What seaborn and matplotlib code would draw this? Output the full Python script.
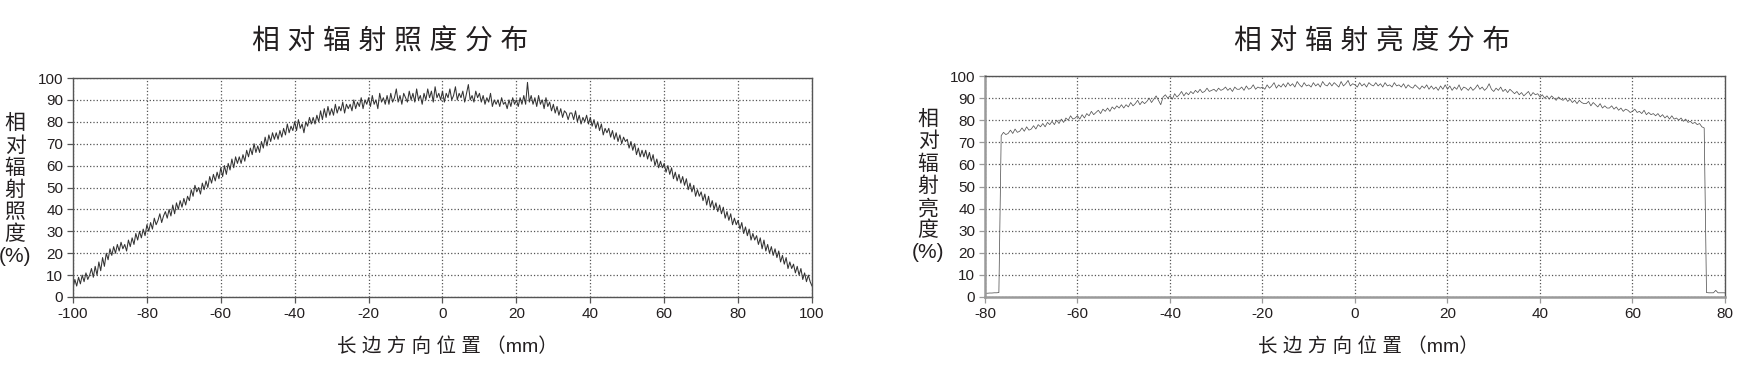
import numpy as np
import pandas as pd
import matplotlib
matplotlib.use("Agg")
import matplotlib.pyplot as plt
import seaborn as sns

# 相对辐射照度：长边方向位置 -100 ~ 100 mm，每 0.5 mm 一个点
irr_x = np.arange(-100, 100.5, 0.5)
irr_y = [
    4, 8, 5, 9, 6, 10, 7, 11, 8, 10,
    13, 9, 14, 10, 16, 12, 18, 14, 20, 17,
    22, 19, 23, 20, 24, 21, 25, 22, 24, 21,
    26, 23, 27, 24, 29, 26, 30, 27, 31, 28,
    33, 30, 34, 31, 36, 33, 35, 38, 34, 37,
    39, 36, 40, 37, 42, 38, 43, 40, 44, 41,
    45, 42, 46, 44, 49, 46, 51, 48, 50, 47,
    52, 49, 53, 50, 55, 52, 56, 53, 57, 54,
    59, 55, 60, 56, 61, 58, 63, 59, 64, 61,
    64, 61, 65, 62, 67, 64, 68, 65, 70, 66,
    69, 66, 71, 68, 73, 69, 74, 71, 75, 72,
    75, 72, 76, 73, 77, 74, 79, 75, 78, 76,
    80, 76, 81, 77, 79, 75, 80, 78, 82, 79,
    82, 79, 83, 80, 85, 81, 86, 82, 87, 83,
    86, 83, 88, 84, 87, 85, 89, 84, 88, 86,
    88, 85, 90, 86, 89, 87, 91, 86, 90, 88,
    91, 87, 92, 88, 90, 86, 93, 89, 91, 88,
    92, 88, 93, 89, 91, 95, 89, 92, 88, 93,
    91, 89, 94, 90, 93, 89, 95, 90, 92, 88,
    93, 90, 95, 91, 94, 89, 96, 91, 93, 90,
    94, 89, 93, 91, 95, 90, 92, 96, 90, 93,
    91, 94, 89, 93, 97, 90, 92, 89, 94, 91,
    93, 89, 92, 88, 91, 89, 93, 87, 90, 88,
    90, 87, 91, 88, 89, 86, 90, 87, 91, 88,
    90, 87, 91, 88, 92, 88, 98, 89, 92, 88,
    91, 87, 92, 88, 90, 86, 91, 87, 89, 85,
    88, 84, 87, 83, 86, 82, 85, 84, 81, 84,
    84, 81, 85, 80, 83, 79, 82, 80, 83, 79,
    82, 78, 81, 77, 80, 76, 79, 74, 77, 75,
    77, 73, 76, 72, 75, 71, 74, 70, 73, 71,
    72, 68, 71, 67, 70, 65, 68, 64, 67, 64,
    67, 63, 66, 62, 65, 60, 63, 59, 62, 59,
    61, 57, 60, 56, 59, 54, 57, 53, 56, 52,
    55, 51, 54, 49, 52, 48, 51, 46, 49, 46,
    48, 44, 47, 42, 46, 41, 44, 40, 43, 39,
    42, 38, 41, 36, 39, 35, 38, 33, 36, 33,
    35, 31, 34, 29, 32, 28, 31, 26, 29, 26,
    28, 24, 27, 22, 26, 21, 24, 20, 23, 19,
    22, 18, 21, 16, 19, 15, 18, 13, 16, 13,
    15, 11, 14, 10, 13, 8, 11, 7, 10, 7,
    5,
]

# 相对辐射亮度：-80 ~ 80 mm，每 0.5 mm 一个点
rad_x = np.arange(-80, 80.5, 0.5)
rad_y = [
    1.7, 1.7, 1.8, 1.8, 1.9, 1.9, 2.0, 73, 74.5, 73.5,
    74, 75.5, 74, 76, 74.5, 75, 76.5, 75, 77, 75.5,
    76, 77.5, 76, 78, 77, 78.5, 77, 79, 78, 79.5,
    78, 80, 78.5, 80.5, 79, 81, 80, 82, 80.5, 81,
    82, 80.5, 82.5, 81, 83, 82, 84, 82.5, 83.5, 84.5,
    83, 85, 84, 85.5, 84, 86, 85, 86.5, 85.5, 87,
    85.5, 87, 86, 88, 86.5, 87.5, 89, 87, 88.5, 87.5,
    88.5, 90, 88, 89.5, 91, 89, 87, 90.5, 91.5, 90,
    91, 89.5, 92, 90.5, 91.5, 93, 91, 92.5, 91.5, 93,
    92, 93.5, 92.5, 94, 92.5, 93, 94.5, 93, 93.5, 94,
    93, 94.5, 93.5, 94, 95, 93.5, 94.5, 93, 95, 94,
    94, 95, 93.5, 95.5, 94, 94.5, 96, 94, 95, 94.5,
    95, 94, 96, 94.5, 95.5, 97, 94.5, 96, 95, 96.5,
    95, 97, 95.5, 96.5, 95, 97.5, 96, 95, 97, 95.5,
    96, 95, 97, 95.5, 96.5, 95, 97.5, 96, 95.5, 97,
    95.5, 97, 96, 95, 97.5, 95.5, 96.5, 98, 95.5, 96.5,
    96, 95, 97, 95.5, 96.5, 95, 97, 96, 95.5, 97,
    95.5, 96.5, 95, 97, 95.5, 96, 95, 97, 95.5, 96,
    95, 96.5, 94.5, 96, 95, 94.5, 96, 95, 94, 95.5,
    94.5, 96, 94, 95.5, 94, 95, 93.5, 95.5, 94, 96,
    94, 95.5, 93.5, 95, 94, 96, 93.5, 95, 94.5, 93.5,
    95, 93.5, 94.5, 96, 94, 95, 93.5, 94.5, 96.5, 94,
    93, 94.5, 93.5, 95, 93, 94, 92.5, 94, 93, 92,
    93, 91.5, 92.5, 91, 92, 93, 91, 92.5, 91.5, 92,
    90.5, 91.5, 90, 91, 89.5, 91, 90, 89, 90.5, 89.5,
    89, 90, 88.5, 89.5, 88, 89, 87.5, 89, 88, 87.5,
    87.5, 88.5, 86.5, 88, 87, 86, 87.5, 85.5, 86.5, 85.5,
    85.5, 86.5, 85, 86, 84.5, 85.5, 84, 85, 84.5, 83.5,
    84, 85, 83.5, 84, 83, 84.5, 82.5, 83.5, 82.5, 83,
    82, 83, 81.5, 82.5, 81, 82, 80.5, 82, 80.5, 81,
    80, 81, 79.5, 80.5, 79, 79.5, 78.5, 79, 78, 78.5,
    77, 76.5, 2.0, 1.9, 1.9, 1.9, 3.0, 1.9, 1.9, 1.9,
    1.9,
]

irr_ticks = [-100, -80, -60, -40, -20, 0, 20, 40, 60, 80, 100]
rad_ticks = [-80, -60, -40, -20, 0, 20, 40, 60, 80]
y_ticks = list(range(0, 101, 10))

df_irr = pd.DataFrame({"x": irr_x, "y": irr_y})
df_rad = pd.DataFrame({"x": rad_x, "y": rad_y})

sns.set_style("white")
plt.rcParams["font.family"] = ["Liberation Sans", "Noto Sans CJK SC", "DejaVu Sans"]
plt.rcParams["axes.unicode_minus"] = False
TXT = "#231f20"

W, H = 1740, 382
fig = plt.figure(figsize=(W / 100, H / 100), dpi=100)
ax1 = fig.add_axes([73 / W, 1 - 297 / H, (812 - 73) / W, (297 - 78) / H])
ax2 = fig.add_axes([985 / W, 1 - 297 / H, (1725 - 985) / W, (297 - 76) / H])

sns.lineplot(data=df_irr, x="x", y="y", ax=ax1, color="#333333", linewidth=0.75)
sns.lineplot(data=df_rad, x="x", y="y", ax=ax2, color="#555555", linewidth=0.55)


def style_axis(ax, xlim, xticks, light=False):
    ax.set_xlim(*xlim)
    ax.set_ylim(0, 100)
    ax.set_xticks(xticks)
    ax.set_yticks(y_ticks)
    ax.set_xlabel("")
    ax.set_ylabel("")
    ax.grid(True, linestyle=":", color="#555555", linewidth=0.9)
    for s in ax.spines.values():
        s.set_visible(True)
        s.set_color("#555555")
        s.set_linewidth(1.0)
    if light:
        ax.spines["left"].set_color("#9a9a9a")
        ax.spines["bottom"].set_color("#9a9a9a")
        ax.spines["left"].set_linewidth(1.8)
        ax.spines["bottom"].set_linewidth(1.8)
    tc = "#9a9a9a" if light else "#555555"
    ax.tick_params(direction="out", length=4, width=0.9, color=tc, pad=3,
                   labelsize=11, labelcolor=TXT, bottom=True, left=True)


style_axis(ax1, (-100, 100), irr_ticks)
style_axis(ax2, (-80, 80), rad_ticks, light=True)

# 标题
fig.text(390 / W, 1 - 42 / H, "相 对 辐 射 照 度 分 布", ha="center", va="center",
         fontsize=20, color=TXT)
fig.text(1372 / W, 1 - 42 / H, "相 对 辐 射 亮 度 分 布", ha="center", va="center",
         fontsize=20, color=TXT)

# x 轴标题
fig.text(447 / W, 1 - 347 / H, "长 边 方 向 位 置 （mm）", ha="center", va="center",
         fontsize=14, color=TXT)
fig.text(1368 / W, 1 - 347 / H, "长 边 方 向 位 置 （mm）", ha="center", va="center",
         fontsize=14, color=TXT)

# y 轴标题（竖排）
fig.text(15 / W, 1 - 190 / H, "相\n对\n辐\n射\n照\n度\n(%)", ha="center", va="center",
         fontsize=15, linespacing=1.18, color=TXT)
fig.text(928 / W, 1 - 186 / H, "相\n对\n辐\n射\n亮\n度\n(%)", ha="center", va="center",
         fontsize=15, linespacing=1.18, color=TXT)

fig.savefig("out.png", dpi=100)
